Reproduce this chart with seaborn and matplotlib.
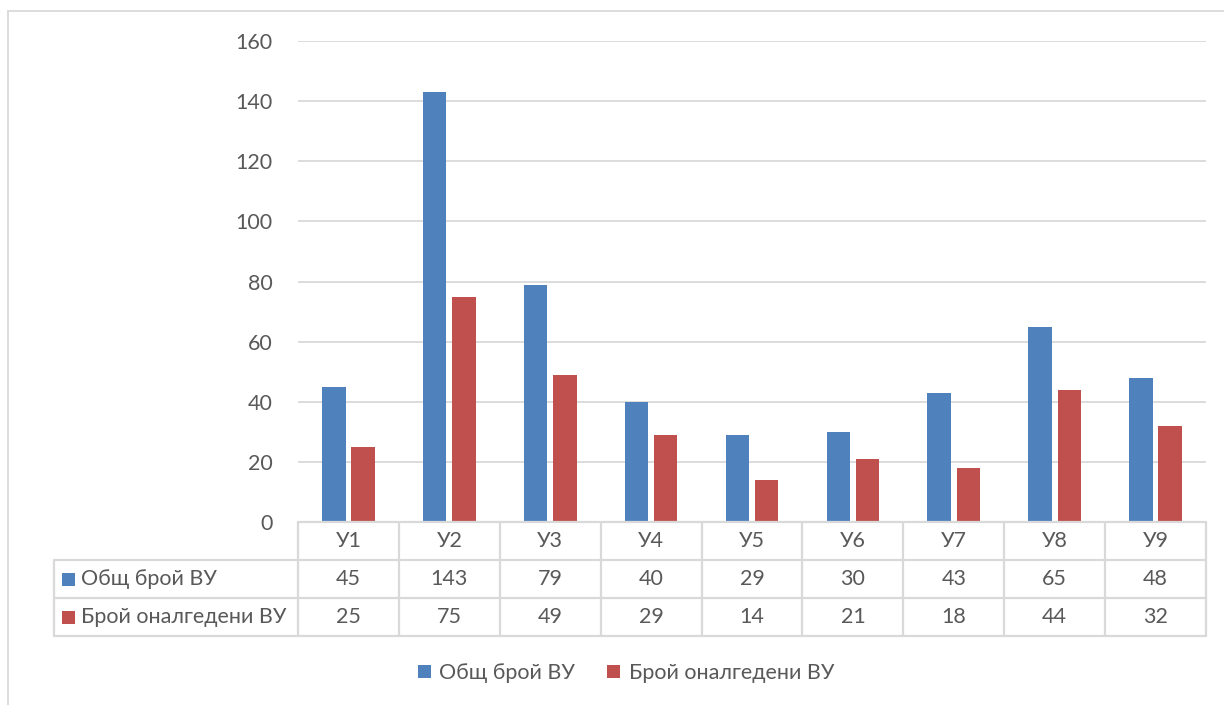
import matplotlib
matplotlib.use("Agg")
import matplotlib.pyplot as plt
import matplotlib.transforms as mtransforms
from matplotlib.lines import Line2D
from matplotlib.patches import Rectangle, Patch
import seaborn as sns
import pandas as pd

# Data
categories = ["У1", "У2", "У3", "У4", "У5", "У6", "У7", "У8", "У9"]
total_vu = [45, 143, 79, 40, 29, 30, 43, 65, 48]
analgesia_vu = [25, 75, 49, 29, 14, 21, 18, 44, 32]
series_names = ["Общ брой ВУ", "Брой оналгедени ВУ"]
series_colors = ["#4F81BD", "#C0504D"]
y_ticks = [0, 20, 40, 60, 80, 100, 120, 140, 160]

TEXT = "#595959"
GRID = "#D9D9D9"
FS = 15.5

sns.set_theme(style="white")
plt.rcParams["font.family"] = ["Lato", "DejaVu Sans"]

W, H = 1224, 705
fig = plt.figure(figsize=(W / 100, H / 100), dpi=100)
fig.patch.set_facecolor("white")


def fx(px):
    return px / W


def fy(py):
    return 1 - py / H


# plot area in pixel terms: x 298..1206, y 41..522
ax = fig.add_axes([fx(298), fy(522), fx(1206) - fx(298), (522 - 41) / H])

df = pd.DataFrame({
    "Участък": categories * 2,
    "Серия": [series_names[0]] * len(categories) + [series_names[1]] * len(categories),
    "Брой": total_vu + analgesia_vu,
})

sns.barplot(data=df, x="Участък", y="Брой", hue="Серия", order=categories,
            hue_order=series_names, palette=series_colors, saturation=1,
            width=0.58, gap=0.2, linewidth=0, legend=False, ax=ax)

ax.set_xlim(-0.5, len(categories) - 0.5)
ax.set_ylim(0, 160)
ax.set_yticks(y_ticks)
ax.set_yticklabels([str(t) for t in y_ticks])
ax.set_xticks([])
ax.set_xlabel("")
ax.set_ylabel("")
ax.tick_params(axis="y", length=0, pad=18.5, labelsize=FS, labelcolor=TEXT)
ax.yaxis.grid(True, color=GRID, linewidth=1.3)
ax.set_axisbelow(True)
for s in ax.spines.values():
    s.set_visible(False)

# Data table under the plot
fig_tr = fig.transFigure
cat_tr = mtransforms.blended_transform_factory(ax.transData, fig_tr)

row_edges = [522, 560, 598, 636]
row_centers = [541, 579, 617]

# horizontal rules
fig.add_artist(Line2D([fx(298), fx(1206)], [fy(522)] * 2, color=GRID, lw=1.6, transform=fig_tr))
for yy in row_edges[1:]:
    fig.add_artist(Line2D([fx(54), fx(1206)], [fy(yy)] * 2, color=GRID, lw=1.6, transform=fig_tr))
# vertical rules
fig.add_artist(Line2D([fx(54), fx(54)], [fy(560), fy(636)], color=GRID, lw=1.6, transform=fig_tr))
for i in range(len(categories) + 1):
    fig.add_artist(Line2D([i - 0.5, i - 0.5], [fy(522), fy(636)], color=GRID, lw=1.6,
                          transform=cat_tr, clip_on=False))

# header and values
for i, cat in enumerate(categories):
    fig.text(i, fy(row_centers[0]), cat, transform=cat_tr, ha="center", va="center",
             fontsize=FS, color=TEXT)
    fig.text(i, fy(row_centers[1]), str(total_vu[i]), transform=cat_tr, ha="center",
             va="center", fontsize=FS, color=TEXT)
    fig.text(i, fy(row_centers[2]), str(analgesia_vu[i]), transform=cat_tr, ha="center",
             va="center", fontsize=FS, color=TEXT)

# row labels with legend keys
for name, color, yc in zip(series_names, series_colors, row_centers[1:]):
    fig.add_artist(Rectangle((fx(62), fy(yc + 6.5)), 13 / W, 13 / H, facecolor=color,
                             edgecolor="none", transform=fig_tr))
    fig.text(fx(81), fy(yc), name, ha="left", va="center", fontsize=FS, color=TEXT)

# bottom legend
handles = [Patch(facecolor=c, edgecolor="none", label=n) for n, c in zip(series_names, series_colors)]
fig.legend(handles=handles, loc="center", bbox_to_anchor=(fx(626), fy(673)), ncol=2,
           frameon=False, fontsize=FS, labelcolor=TEXT, handlelength=0.6,
           handleheight=0.6, handletextpad=0.4, columnspacing=1.5)

# chart frame
fig.add_artist(Line2D([fx(8), fx(W)], [fy(11), fy(11)], color=GRID, lw=1.3, transform=fig_tr))
fig.add_artist(Line2D([fx(8), fx(8)], [fy(11), fy(H)], color=GRID, lw=1.3, transform=fig_tr))

fig.savefig("out.png", dpi=100, facecolor="white")
